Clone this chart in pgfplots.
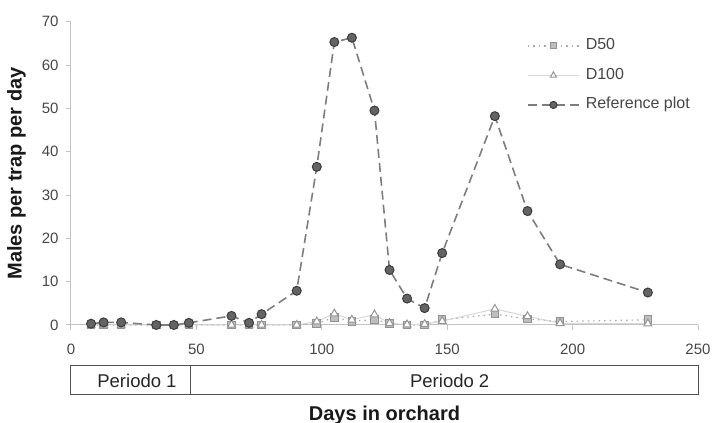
\documentclass[border=0pt]{standalone}
\usepackage{pgfplots}
\pgfplotsset{compat=1.18}
\usepackage{fontspec}
\setmainfont{Liberation Sans}
\definecolor{axisgray}{RGB}{195,195,195}
\definecolor{ticktext}{RGB}{70,70,70}
\definecolor{refline}{RGB}{125,125,125}
\definecolor{reffill}{RGB}{100,100,100}
\definecolor{refedge}{RGB}{60,60,60}
\definecolor{dfifty}{RGB}{170,170,170}
\definecolor{dfiftyfill}{RGB}{190,190,190}
\definecolor{dfiftyedge}{RGB}{145,145,145}
\definecolor{dhundred}{RGB}{215,215,215}
\definecolor{dhundrededge}{RGB}{150,150,150}
\definecolor{boxgray}{RGB}{80,80,80}

\pgfplotstableread{
day ref d50 d100
8 0.3 0 0
13 0.6 0 0
20 0.6 0 0
34 0 0 0
41 0 0 0
47 0.5 0 0
64 2.1 0 0
71 0.5 0 0
76 2.5 0 0
90 7.9 0 0
98 36.5 0.3 0.8
105 65.3 1.8 2.6
112 66.3 0.8 1.2
121 49.5 1.3 2.4
127 12.7 0.3 0.4
134 6.1 0 0.1
141 3.9 0 0.2
148 16.6 1.2 0.9
169 48.2 2.5 3.7
182 26.3 1.4 2.0
195 14 0.8 0.4
230 7.5 1.2 0.3
}\datatable

\begin{document}
\begin{tikzpicture}
\begin{axis}[
  scale only axis, width=627pt, height=303.3pt,
  xmin=0, xmax=250, ymin=0, ymax=70,
  axis x line=bottom, axis y line=left,
  axis line style={-, axisgray, line width=1pt},
  xtick={0,50,...,250}, ytick={0,10,...,70},
  tick align=outside, major tick length=5pt,
  tick style={axisgray, line width=1pt},
  /pgf/number format/assume math mode=true,
  ticklabel style={font=\fontsize{15}{18}\selectfont, text=ticktext},
  xticklabel style={yshift=-10pt},
  yticklabel style={xshift=-4pt},
  clip=false,
  xlabel={Days in orchard}, ylabel={Males per trap per day},
  every axis x label/.style={at={(axis description cs:0.5,0)}, yshift=-90pt, anchor=center, font=\fontsize{20}{24}\selectfont\bfseries, text=black!90},
  every axis y label/.style={at={(axis description cs:0,0.5)}, xshift=-54.5pt, rotate=90, anchor=center, font=\fontsize{20}{24}\selectfont\bfseries, text=black!90},
  legend style={at={(axis cs:181.8,66.3)}, anchor=north west, draw=none, fill=none, inner sep=0pt,
    font=\fontsize{16}{19}\selectfont, text=ticktext, row sep=13.5pt, column sep=6pt,
    nodes={inner sep=0pt, text height=12pt, text depth=4pt}},
  legend cell align=left,
  legend image code/.code={\draw[mark repeat=2,mark phase=2, every mark/.append style={scale=0.8}] plot coordinates {(0pt,0pt) (25.5pt,0pt) (51pt,0pt)};},
]
\addplot[dfifty, line width=1.2pt, dash pattern=on 1.5pt off 4pt, mark=square*, mark size=3.8pt,
  mark options={solid, fill=dfiftyfill, draw=dfiftyedge, line width=1pt}] table[x=day, y=d50] {\datatable};
\addlegendentry{D50}
\addplot[dhundred, line width=1pt, mark=triangle*, mark size=4.5pt,
  mark options={solid, fill=white, draw=dhundrededge, line width=1pt}] table[x=day, y=d100] {\datatable};
\addlegendentry{D100}
\addplot[refline, line width=1.6pt, dash pattern=on 9pt off 5pt, mark=*, mark size=4.5pt,
  mark options={solid, fill=reffill, draw=refedge, line width=1pt}] table[x=day, y=ref] {\datatable};
\addlegendentry{Reference plot}

\draw[boxgray, line width=1pt] (axis cs:0,-9.45) rectangle (axis cs:250,-16.1);
\draw[boxgray, line width=1pt] (axis cs:47.5,-9.45) -- (axis cs:47.5,-16.1);
\node[font=\fontsize{18.5}{22}\selectfont, text=black!85] at (axis cs:26.3,-12.8) {Periodo 1};
\node[font=\fontsize{18.5}{22}\selectfont, text=black!85] at (axis cs:151,-12.8) {Periodo 2};
\end{axis}
\pgfresetboundingbox
\path (current axis.south west) ++(-71pt,-98pt) rectangle ++(716pt,423pt);
\end{tikzpicture}
\end{document}
